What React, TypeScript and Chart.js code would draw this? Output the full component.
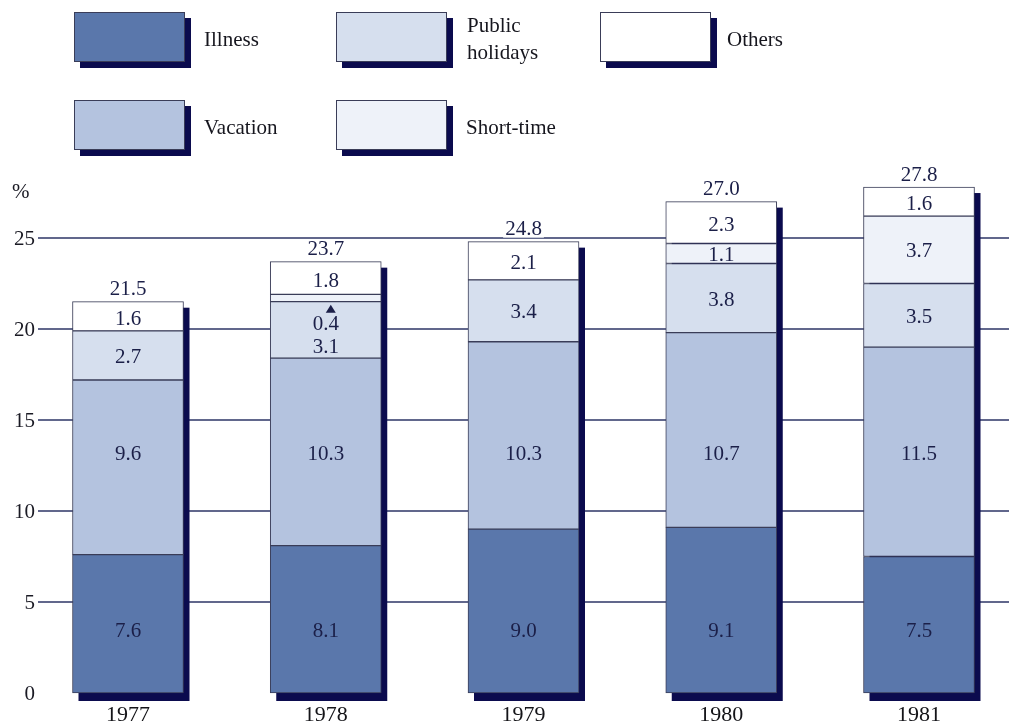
import { useEffect, useRef } from "react";
import { Chart, registerables } from "chart.js";

Chart.register(...registerables);

// Working time lost, % of annual working hours
const years = ["1977", "1978", "1979", "1980", "1981"];
const illness = [7.6, 8.1, 9.0, 9.1, 7.5];
const vacation = [9.6, 10.3, 10.3, 10.7, 11.5];
const publicHolidays = [2.7, 3.1, 3.4, 3.8, 3.5];
const shortTime = [0, 0.4, 0, 1.1, 3.7];
const others = [1.6, 1.8, 2.1, 2.3, 1.6];
const totals = [21.5, 23.7, 24.8, 27.0, 27.8];
const yTickValues = [0, 5, 10, 15, 20, 25];

const seriesNames = ["Illness", "Vacation", "Public holidays", "Short-time", "Others"];
const seriesColors = ["#5a77ab", "#b4c3df", "#d6dfee", "#eef2f9", "#ffffff"];

const FONT = "'Liberation Serif', 'Times New Roman', serif";
const INK = "#1b1f48";
const SHADOW = "#0b0b4e";
const OUTLINE = "#3a3d58";
const GRID = "#2c3566";

// legend slots: [column x, row y] for each series
const legendSlots: Array<[number, number]> = [
  [74, 12],
  [74, 100],
  [336, 12],
  [336, 100],
  [600, 12],
];

const decorations = {
  id: "decorations",
  beforeDatasetsDraw(chart: any) {
    const ctx = chart.ctx;
    const y = chart.scales.y;
    ctx.save();
    // horizontal rules and y labels
    ctx.font = `21px ${FONT}`;
    ctx.fillStyle = "#1a1a24";
    ctx.textAlign = "right";
    ctx.textBaseline = "middle";
    for (const v of yTickValues) {
      const py = y.getPixelForValue(v);
      ctx.fillText(String(v), 35, py + 1);
      if (v > 0) {
        ctx.strokeStyle = GRID;
        ctx.lineWidth = 1.5;
        ctx.beginPath();
        ctx.moveTo(38, py);
        ctx.lineTo(chart.width, py);
        ctx.stroke();
      }
    }
    ctx.textAlign = "left";
    ctx.fillText("%", 12, y.getPixelForValue(27.5));

    // drop shadows behind each stacked column
    const base = y.getPixelForValue(0);
    const meta0 = chart.getDatasetMeta(0);
    meta0.data.forEach((el: any, i: number) => {
      const top = y.getPixelForValue(totals[i]);
      const left = el.x - el.width / 2;
      ctx.fillStyle = SHADOW;
      ctx.fillRect(left + 6, top + 6, el.width, base - top + 2);
    });
    ctx.restore();
  },
  afterDatasetsDraw(chart: any) {
    const ctx = chart.ctx;
    const y = chart.scales.y;
    ctx.save();
    ctx.font = `21px ${FONT}`;
    ctx.fillStyle = INK;
    ctx.textAlign = "center";
    ctx.textBaseline = "middle";
    const fmt = (v: number) => v.toFixed(1);
    const meta0 = chart.getDatasetMeta(0);
    meta0.data.forEach((el: any, i: number) => {
      const cx = el.x;
      const series = [illness, vacation, publicHolidays, shortTime, others];
      let cum = 0;
      const bounds = series.map((s) => {
        const lo = cum;
        cum += s[i];
        return [lo, cum];
      });
      // illness and vacation labels sit on common levels
      ctx.fillText(fmt(illness[i]), cx, y.getPixelForValue(3.4));
      ctx.fillText(fmt(vacation[i]), cx, y.getPixelForValue(13.1));
      const phTop = y.getPixelForValue(bounds[2][1]);
      const smallShort = shortTime[i] > 0 && shortTime[i] < 0.6;
      if (smallShort) {
        // thin short-time slice: label placed below with an arrow
        ctx.fillText(fmt(shortTime[i]), cx, phTop + 23);
        ctx.fillText(fmt(publicHolidays[i]), cx, phTop + 46);
        ctx.beginPath();
        ctx.moveTo(cx + 5, phTop + 3);
        ctx.lineTo(cx + 10, phTop + 11);
        ctx.lineTo(cx, phTop + 11);
        ctx.closePath();
        ctx.fill();
      } else {
        const mid = (b: number[]) => y.getPixelForValue((b[0] + b[1]) / 2);
        ctx.fillText(fmt(publicHolidays[i]), cx, mid(bounds[2]) + 2);
        if (shortTime[i] > 0) ctx.fillText(fmt(shortTime[i]), cx, mid(bounds[3]) + 2);
      }
      if (others[i] > 0) {
        ctx.fillText(fmt(others[i]), cx, y.getPixelForValue((bounds[4][0] + bounds[4][1]) / 2) + 3);
      }
      // column total above the bar
      const top = y.getPixelForValue(totals[i]);
      const label = fmt(totals[i]);
      const w = ctx.measureText(label).width;
      ctx.fillStyle = "#ffffff";
      ctx.fillRect(cx - w / 2 - 2, top - 21, w + 4, 17);
      ctx.fillStyle = INK;
      ctx.fillText(label, cx, top - 12);
    });
    ctx.restore();
  },
  afterDraw(chart: any) {
    const ctx = chart.ctx;
    ctx.save();
    ctx.font = `21px ${FONT}`;
    ctx.textBaseline = "middle";
    ctx.textAlign = "left";
    chart.data.datasets.forEach((ds: any, i: number) => {
      const [x, y0] = legendSlots[i];
      const w = 111;
      const h = 50;
      ctx.fillStyle = SHADOW;
      ctx.fillRect(x + 6, y0 + 6, w, h);
      ctx.fillStyle = ds.backgroundColor;
      ctx.fillRect(x, y0, w, h);
      ctx.strokeStyle = OUTLINE;
      ctx.lineWidth = 1;
      ctx.strokeRect(x + 0.5, y0 + 0.5, w - 1, h - 1);
      ctx.fillStyle = "#16161e";
      const words = String(ds.label).split(" ");
      if (words.length > 1) {
        ctx.fillText(words[0], x + w + 20, y0 + 14);
        ctx.fillText(words.slice(1).join(" "), x + w + 20, y0 + 41);
      } else {
        ctx.fillText(ds.label, x + w + (i === 4 ? 16 : 19), y0 + 28);
      }
    });
    ctx.restore();
  },
};

export default function App() {
  const ref = useRef<HTMLCanvasElement | null>(null);
  useEffect(() => {
    if (!ref.current) return;
    const values = [illness, vacation, publicHolidays, shortTime, others];
    const chart = new Chart(ref.current, {
      type: "bar",
      data: {
        labels: years,
        datasets: values.map((data, i) => ({
          label: seriesNames[i],
          data,
          backgroundColor: seriesColors[i],
          borderColor: OUTLINE,
          borderWidth: 1,
          borderSkipped: false,
          barThickness: 111,
          clip: false as any,
        })),
      },
      options: {
        animation: false,
        responsive: false,
        events: [],
        layout: { padding: { top: 147, left: 128, right: 90, bottom: 0 } },
        plugins: { legend: { display: false }, tooltip: { enabled: false } },
        scales: {
          x: {
            stacked: true,
            offset: false,
            grid: { display: false, drawTicks: false },
            border: { display: false },
            ticks: { color: "#141418", font: { family: FONT, size: 22 }, padding: 9 },
            afterFit: (s: any) => {
              s.height = 34;
            },
          },
          y: { stacked: true, min: 0, max: 30, display: false },
        },
      },
      plugins: [decorations],
    });
    return () => chart.destroy();
  }, []);
  return (
    <div style={{ position: "fixed", left: 0, top: 0, width: 1009, height: 727, background: "#fff" }}>
      <canvas ref={ref} width={1009} height={727} />
    </div>
  );
}
